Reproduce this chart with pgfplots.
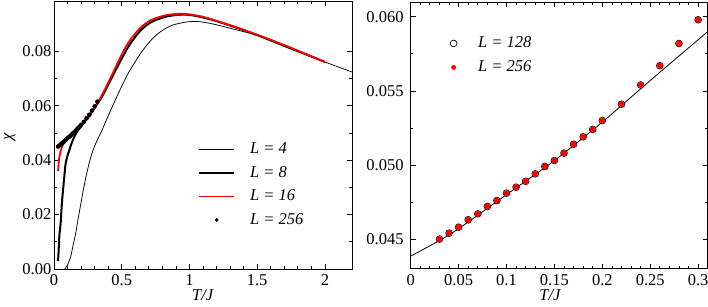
\documentclass[border=0pt]{standalone}
\usepackage{fontspec}
\setmainfont{Liberation Serif}
\usepackage{pgfplots}
\pgfplotsset{compat=1.18}
\pgfplotsset{
  linelegend/.style={legend image code/.code={\draw[##1] (0pt,0pt) -- (35pt,0pt);}},
  dotlegend/.style={legend image code/.code={\draw[##1, mark size=1.6pt] plot coordinates {(17.5pt,0pt)};}},
  circlegend/.style={legend image code/.code={\draw[##1] plot coordinates {(4pt,0pt)};}},
  redlegend/.style={legend image code/.code={\draw[##1, mark size=2.2pt] plot coordinates {(4pt,0pt)};}},
}
\begin{document}
\fontsize{16.5}{19}\selectfont
\begin{tikzpicture}
\useasboundingbox (0,0) rectangle (708pt,306pt);
\pgfplotsset{
  every axis/.append style={
    scale only axis,
    anchor=south west,
    axis line style={line width=0.9pt},
    tick align=inside,
    major tick length=5pt,
    minor tick length=2.6pt,
    every tick/.style={line width=0.8pt, black},
    scaled ticks=false,
    /pgf/number format/assume math mode=true,
    tick label style={font=\fontsize{16.5}{19}\selectfont},
    xticklabel style={inner sep=1pt, yshift=-4.5pt},
    label style={font=\fontsize{16.5}{19}\selectfont},
    xlabel style={inner sep=0pt},
    legend style={draw=none, fill=none, inner sep=0pt, font=\fontsize{16.5}{19}\selectfont},
    legend cell align=left,
  }
}
% ---------------- left panel ----------------
\begin{axis}[
  at={(54pt,37pt)}, width=298pt, height=268pt,
  xmin=0, xmax=2.2, ymin=0, ymax=0.0985,
  xtick={0,0.5,1,1.5,2},
  xticklabels={0,0.5,1,1.5,2},
  ytick={0,0.02,0.04,0.06,0.08},
  yticklabels={0.00,0.02,0.04,0.06,0.08},
  yticklabel style={xshift=3pt},
  minor x tick num=4, minor y tick num=1,
  xlabel={\textit{T/J}},
  ylabel={\textit{χ}},
  xlabel style={at={(axis description cs:0.5,-0.099)}, anchor=center},
  ylabel style={at={(axis description cs:-0.148,0.4925)}, anchor=center},
  clip=true,
  legend style={at={(axis description cs:0.483,0.478)}, anchor=north west,
    row sep=6pt,
    /tikz/every odd column/.append style={column sep=13pt}},
]
% L = 4
\addplot[black, line width=0.75pt, smooth, linelegend] coordinates {
(0.075,-0.001) (0.080,0.000) (0.10,0.0015) (0.123,0.0045) (0.14,0.0085) (0.16,0.0131)
(0.18,0.0190) (0.20,0.0245) (0.22,0.0300) (0.24,0.0348) (0.26,0.0390)
(0.28,0.0425) (0.30,0.0452) (0.32,0.0474) (0.35,0.0505) (0.38,0.0540)
(0.42,0.0585) (0.47,0.0640) (0.52,0.0692) (0.56,0.0730) (0.65,0.0800)
(0.73,0.0848) (0.80,0.0877) (0.88,0.0897) (0.98,0.0908) (1.05,0.0910)
(1.15,0.0903) (1.30,0.0885) (1.50,0.0858) (1.70,0.0818) (2.00,0.0761) (2.20,0.0724)
};
\addlegendentry{\textit{L = 4}}
% L = 8
\addplot[black, line width=2pt, smooth, linelegend] coordinates {
(0.030,0.0030) (0.035,0.0075) (0.040,0.0125) (0.049,0.0168) (0.058,0.0240)
(0.069,0.0302) (0.078,0.0350) (0.086,0.0388) (0.097,0.0412) (0.11,0.0432)
(0.13,0.0462) (0.148,0.0484) (0.165,0.0500) (0.185,0.0515) (0.22,0.0538)
(0.26,0.0562) (0.30,0.0592) (0.35,0.0630) (0.40,0.0677) (0.45,0.0726)
(0.50,0.0773) (0.56,0.0826) (0.64,0.0877) (0.72,0.0908) (0.83,0.0928)
(0.95,0.0935) (1.05,0.0930) (1.20,0.0911) (1.50,0.0860) (2.00,0.0761)
};
\addlegendentry{\textit{L = 8}}
% L = 16
\addplot[red, line width=1.8pt, smooth, linelegend] coordinates {
(0.030,0.0360) (0.035,0.0392) (0.040,0.0412) (0.050,0.0436) (0.060,0.0450)
(0.070,0.0460) (0.080,0.0468) (0.10,0.0479) (0.15,0.0502) (0.20,0.0529)
(0.25,0.0559) (0.30,0.0596) (0.34,0.0626) (0.40,0.0685) (0.45,0.0736)
(0.49,0.0778) (0.55,0.0833) (0.635,0.0885) (0.72,0.0916) (0.83,0.0933)
(0.93,0.0938) (1.00,0.0936) (1.10,0.0927) (1.20,0.0912) (1.35,0.0888)
(1.50,0.0861) (1.70,0.0823) (2.00,0.0761)
};
\addlegendentry{\textit{L = 16}}
% L = 256
\addplot[only marks, mark=*, mark size=2pt, black, dotlegend] coordinates {
(0.03,0.0450) (0.04,0.0454) (0.05,0.0458) (0.06,0.0463) (0.07,0.0467)
(0.08,0.0472) (0.09,0.0476) (0.10,0.0481) (0.11,0.0485) (0.12,0.0489)
(0.13,0.0494) (0.14,0.0499) (0.15,0.0503) (0.16,0.0508) (0.17,0.0514)
(0.18,0.0519) (0.19,0.0524) (0.20,0.0530) (0.22,0.0541) (0.24,0.0554)
(0.26,0.0567) (0.28,0.0582) (0.30,0.0598) (0.32,0.0615)
};
\addlegendentry{\textit{L = 256}}
\end{axis}
% ---------------- right panel ----------------
\begin{axis}[
  at={(410.7pt,37.3pt)}, width=297pt, height=266.7pt,
  xmin=0, xmax=0.31, ymin=0.043, ymax=0.061,
  xtick={0,0.05,0.1,0.15,0.2,0.25,0.3},
  xticklabels={0,0.05,0.1,0.15,0.2,0.25,0.3},
  ytick={0.045,0.050,0.055,0.060},
  yticklabels={0.045,0.050,0.055,0.060},
  yticklabel style={xshift=-1.5pt},
  minor x tick num=4, minor y tick num=1,
  xlabel={\textit{T/J}},
  xlabel style={at={(axis description cs:0.47,-0.099)}, anchor=center},
  clip=true,
  legend style={at={(axis description cs:0.1325,0.878)}, anchor=north west,
    row sep=6.5pt,
    /tikz/every odd column/.append style={column sep=19pt}},
]
\addplot[black, line width=0.8pt, smooth, forget plot] coordinates {
(0,0.04385) (0.03,0.0449) (0.05,0.0457) (0.10,0.0480) (0.15,0.0503)
(0.20,0.0529) (0.25,0.0557) (0.31,0.0590)
};
\addplot[only marks, mark=o, mark size=3.4pt, black, mark options={line width=0.7pt}, circlegend] coordinates {
(0.03,0.0450) (0.04,0.0454) (0.05,0.0458) (0.06,0.0463) (0.07,0.0467)
(0.08,0.0472) (0.09,0.0476) (0.10,0.0481) (0.11,0.0485) (0.12,0.0489)
(0.13,0.0494) (0.14,0.0499) (0.15,0.0503) (0.16,0.0508) (0.17,0.0514)
(0.18,0.0519) (0.19,0.0524) (0.20,0.0530) (0.22,0.0541) (0.24,0.0554)
(0.26,0.0567) (0.28,0.0582) (0.30,0.0598)
};
\addlegendentry{\textit{L = 128}}
\addplot[only marks, mark=*, mark size=2.8pt, red, mark options={draw=none, fill=red}, redlegend] coordinates {
(0.03,0.0450) (0.04,0.0454) (0.05,0.0458) (0.06,0.0463) (0.07,0.0467)
(0.08,0.0472) (0.09,0.0476) (0.10,0.0481) (0.11,0.0485) (0.12,0.0489)
(0.13,0.0494) (0.14,0.0499) (0.15,0.0503) (0.16,0.0508) (0.17,0.0514)
(0.18,0.0519) (0.19,0.0524) (0.20,0.0530) (0.22,0.0541) (0.24,0.0554)
(0.26,0.0567) (0.28,0.0582) (0.30,0.0598)
};
\addlegendentry{\textit{L = 256}}
\end{axis}
\end{tikzpicture}
\end{document}
